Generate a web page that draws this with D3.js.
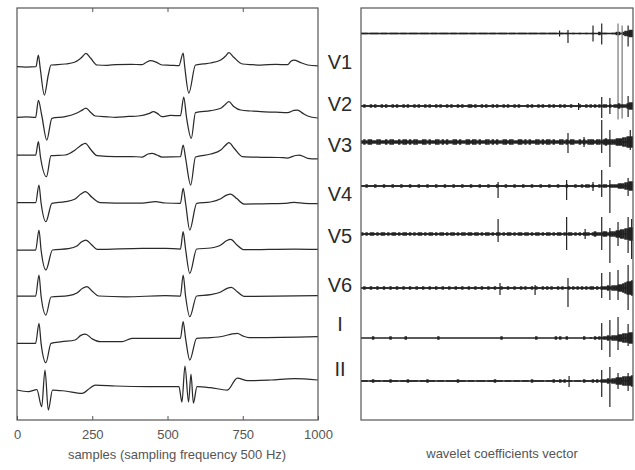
<!DOCTYPE html>
<html><head><meta charset="utf-8">
<script src="https://cdn.jsdelivr.net/npm/d3@7"></script>
<style>body{margin:0;background:#fff}text{font-family:"Liberation Sans",Arial,sans-serif}</style>
</head><body><svg id="c" width="635" height="470"></svg>
<script>
// ---------- data ----------
const leads = ["V1","V2","V3","V4","V5","V6","I","II"];
const xTicks = [0,250,500,750,1000];
const xTitle = "samples (sampling frequency 500 Hz)";
const rTitle = "wavelet coefficients vector";

// ECG traces: [sample, amplitude]
const ecgV1 = [[0,0.6],[30,0.2],[63,0.6],[71,12.3],[77,-0.7],[91,-27.7],[104,-7.7],[113,2.3],[135,2.6],[160,3.3],[193,5.3],[215,10],[229,14],[245,9],[266,2.3],[300,2.0],[327,2.6],[380,3.0],[416,2.6],[430,5],[443,6.6],[460,5.5],[482,2.3],[510,2.0],[538,1.6],[552,14.3],[557,1.3],[571,-25.7],[593,2.3],[620,3.5],[643,4.3],[677,7.3],[692,11],[704,14.6],[720,10],[749,3.3],[780,2.6],[810,2.3],[860,2.9],[899,2.6],[910,6],[921,7.3],[940,5],[966,2.3],[999,1.3]];
const ecgV2 = [[0,-3.9],[30,-3.4],[62,-3.9],[71,13],[82,-1.6],[99,-26.6],[116,-4.9],[160,-3.3],[199,0.4],[215,3],[229,5.4],[245,1],[260,-2.6],[300,-3.4],[327,-3.9],[370,-3.0],[403,-2.6],[440,0],[453,1.7],[466,0],[482,-3.3],[510,-2.0],[543,-2.3],[554,16.4],[563,-3.6],[579,-24.9],[593,0.7],[643,2.7],[677,5.1],[692,9],[704,11.7],[720,7],[743,3.4],[780,2.4],[810,1.7],[860,1.2],[899,0.7],[920,3],[932,3.4],[950,0],[966,-2.6],[999,-4.6]];
const ecgV3 = [[0,4.5],[62,4.5],[71,17.8],[78,2.5],[98,-17.2],[113,3.8],[160,4.5],[193,9.5],[212,14],[227,16.2],[245,10],[266,3.8],[327,2.8],[380,3.0],[416,2.5],[435,5.5],[449,6.2],[465,4.5],[482,2.5],[543,2.8],[552,14.5],[560,1.5],[577,-25.5],[593,2.5],[643,5.5],[677,9.5],[692,14],[704,16.8],[722,11],[749,2.8],[810,2.2],[870,2.0],[899,1.5],[925,4],[938,4.5],[952,3],[966,1.2],[999,0.5]];
const ecgV4 = [[0,2.9],[62,2.9],[73,20.6],[80,2.6],[96,-16.1],[116,2.3],[160,3.9],[193,6.6],[212,11.5],[227,13.9],[250,8],[277,2.9],[327,2.6],[416,2.6],[460,3.9],[493,2.6],[543,2.3],[552,17.3],[560,2.6],[574,-24.4],[597,2.3],[643,3.6],[677,6.9],[696,10.5],[710,11.6],[730,7],[754,1.6],[843,1.9],[900,2.5],[921,3.3],[954,2.3],[999,1.9]];
const ecgV5 = [[0,1.7],[62,1.7],[73,21.7],[80,1.7],[96,-18.3],[118,1.7],[171,3],[199,5.7],[215,10],[229,11.7],[248,7],[266,2.4],[416,3.4],[493,3.4],[543,2.7],[552,20],[560,2.7],[574,-21.6],[597,2.7],[643,3.7],[677,6.7],[696,11],[710,12.4],[730,7],[754,2],[921,2.7],[999,2.4]];
const ecgV6 = [[0,1.8],[62,1.8],[73,22.8],[80,1.8],[96,-17.2],[113,0.8],[171,2.1],[199,4.8],[218,9.5],[232,11.1],[252,6],[271,1.8],[360,1.0],[493,2.1],[543,1.8],[552,22.8],[560,1.8],[574,-18.9],[597,1.8],[643,3.1],[677,5.8],[698,9.5],[712,10.5],[732,6],[754,1.5],[999,2.1]];
const ecgI  = [[0,0.6],[62,0.6],[73,20.6],[80,0.6],[96,-18.8],[113,0.6],[149,2.2],[193,3.9],[212,8.5],[227,9.9],[250,5],[277,2.2],[349,2.2],[382,5.6],[493,5.6],[543,5.6],[552,22.2],[560,5.6],[574,-16.1],[597,5.6],[643,6.2],[688,7.9],[715,10],[732,10.6],[750,8],[771,6.2],[999,7.2]];
const ecgII = [[0,0],[38,-1.7],[66,0.3],[82,-16.7],[93,20],[104,-20],[118,0],[160,-1],[216,-3.3],[243,2],[260,5],[327,4],[438,3.3],[493,3.3],[538,3.3],[548,-12],[558,24],[570,-12],[578,16],[586,-13],[598,3.3],[643,2.3],[699,0],[732,12],[766,9.3],[843,10],[921,11.3],[999,10]];
const ecgTraces = [ecgV1,ecgV2,ecgV3,ecgV4,ecgV5,ecgV6,ecgI,ecgII];

// wavelet coefficient vectors: band half-amplitude per bin of 8 coefficients
const bandV1 = "1110111101110111101110111"+"1011110111011110111011110"+"1110111101110111101110111"+"1011110111011110110100100"+"1001001002011001122123344";
const bandV2 = "1211212112121121211212112"+"1211212112121121211212112"+"2121121211212112121121211"+"1212112121121211212112111"+"2112121212122121223222344";
const bandV3 = "2323322332232332232332323"+"3223323223323232233232233"+"2332322332323223323322332"+"3232233232332322332323322"+"3232333233234333344455666";
const bandV4 = "1121112111211121112111211"+"1211121112111211121112111"+"2111211121112111211121112"+"1112111211121112111211121"+"1212212112122122223334455";
const bandV5 = "2121221212212122121221212"+"1221212212122121221212212"+"2122121221212212122121221"+"2212122121221212212122121"+"2122212322233233344556677";
const bandV6 = "1211211211211211211211211"+"2112112112112112112112112"+"1121121121121121121121121"+"2112121121212112121121212"+"1212122121222323334456778";
const bandI  = "0000020000000200000020000"+"0000000000200000000000000"+"0000000000000020000000000"+"0000020000000020200200000"+"0020010212122323334455566";
const bandII = "1110121110111211101112111"+"1011121110111011111211101"+"1101111011121110111011101"+"1102111110111211212111011"+"1021112121222323344455556";
const coefBands = [bandV1,bandV2,bandV3,bandV4,bandV5,bandV6,bandI,bandII];

// large coefficients: [index, max, min]
const spikesV1 = [[730,3,-3],[761,3.5,-9.5],[853,8,-8],[885,10,-11],[945,10,-86],[960,8,-85],[982,8,-13]];
const spikesV2 = [[800,3,-4],[885,9,-12],[915,8,-8],[982,10,-11]];
const spikesV3 = [[761,9,-11],[820,5,-5],[885,22,-11],[915,12,-25],[990,12,-8]];
const spikesV4 = [[504,4,-12],[756,6,-14],[853,4,-5],[885,16,-11],[915,6,-27],[982,8,-10]];
const spikesV5 = [[504,15,-8],[756,17,-16],[824,5,-5],[885,17,-16],[915,6,-29],[945,12,-12],[982,17,-19],[995,15,-25]];
const spikesV6 = [[511,5,-7],[640,3,-7],[761,10,-19],[885,15,-10],[915,16,-12],[945,18,-12],[982,23,-22]];
const spikesI  = [[885,15,-12],[915,18,-19],[945,21,-12],[982,14,-8]];
const spikesII = [[765,5,-6],[885,11,-16],[915,14,-26],[945,8,-8],[982,8,-10]];
const coefSpikes = [spikesV1,spikesV2,spikesV3,spikesV4,spikesV5,spikesV6,spikesI,spikesII];
const coefOffsets = [386.5,314,278,234,186,132,82,39];

// ---------- drawing ----------
const svg = d3.select("#c");
const L = {x0:17,x1:318,y0:8,y1:420}, R = {x0:361,x1:633,y0:8,y1:420};
const ink = "#222", frame = "#555";

const xL = d3.scaleLinear().domain([0,1000]).range([L.x0,L.x1]);
const yL = d3.scaleLinear().domain([-30,382]).range([L.y1,L.y0]);
const step = 46.1;

svg.append("rect").attr("x",L.x0).attr("y",L.y0).attr("width",L.x1-L.x0).attr("height",L.y1-L.y0)
  .attr("fill","none").attr("stroke",frame).attr("stroke-width",1.2);

const topAx = svg.append("g").attr("transform",`translate(0,${L.y0})`)
  .call(d3.axisTop(xL).tickValues(xTicks.slice(1,-1)).tickSize(-4).tickFormat(""));
topAx.select(".domain").remove();
topAx.selectAll("line").attr("stroke",frame);
const botAx = svg.append("g").attr("transform",`translate(0,${L.y1})`)
  .call(d3.axisBottom(xL).tickValues(xTicks).tickSize(-4).tickPadding(10).tickFormat(d3.format("d")));
botAx.select(".domain").remove();
botAx.selectAll("line").attr("stroke",frame);
botAx.selectAll("text").attr("font-size",13).attr("fill","#555")
  .attr("font-family","'Liberation Sans',Arial,sans-serif");

svg.append("text").attr("x",177).attr("y",459).attr("text-anchor","middle")
  .attr("font-size",13).attr("fill","#555").text(xTitle);

const line = d3.line().x(d=>xL(d[0])).y(d=>yL(d[1])).curve(d3.curveMonotoneX);
ecgTraces.forEach((tr,k)=>{
  const off = (7-k)*step;
  svg.append("path").datum(tr.map(d=>[d[0],d[1]+off]))
    .attr("d",line).attr("fill","none").attr("stroke","#2a2a2a")
    .attr("stroke-width",1.25).attr("stroke-linejoin","round");
});

// labels
const labelY = [68.5,111,152,201,243,292,331,376];
leads.forEach((t,k)=>{
  svg.append("text").attr("x",340).attr("y",labelY[k]).attr("text-anchor","middle")
    .attr("font-size",20).attr("fill","#2a2a2a").text(t);
});

// right panel
const xR = d3.scaleLinear().domain([0,1000]).range([R.x0,R.x1]);
const yR = d3.scaleLinear().domain([0,412]).range([R.y1,R.y0]);
svg.append("clipPath").attr("id","rc").append("rect")
  .attr("x",R.x0).attr("y",R.y0).attr("width",R.x1-R.x0).attr("height",R.y1-R.y0);
const rg = svg.append("g").attr("clip-path","url(#rc)");
const binW = xR(8)-xR(0);
coefBands.forEach((band,k)=>{
  const off = coefOffsets[k];
  rg.append("line").attr("x1",xR(0)).attr("x2",xR(1000)).attr("y1",yR(off)).attr("y2",yR(off))
    .attr("stroke",ink).attr("stroke-width",1.3);
  const bins = band.split("").map((c,b)=>[b*8,+c]).filter(d=>d[1]>0);
  rg.selectAll(null).data(bins).enter().append("rect")
    .attr("x",d=>xR(d[0])).attr("width",binW+0.3)
    .attr("y",d=>yR(off+d[1])+0.3).attr("height",d=>yR(off-d[1])-yR(off+d[1])-0.6)
    .attr("fill",ink);
  rg.selectAll(null).data(coefSpikes[k]).enter().append("line")
    .attr("x1",d=>xR(d[0])).attr("x2",d=>xR(d[0]))
    .attr("y1",d=>yR(off+d[1])).attr("y2",d=>yR(off+d[2]))
    .attr("stroke",d=>(d[1]-d[2])>50?"#777":ink).attr("stroke-width",1.2);
});
svg.append("rect").attr("x",R.x0).attr("y",R.y0).attr("width",R.x1-R.x0).attr("height",R.y1-R.y0)
  .attr("fill","none").attr("stroke",frame).attr("stroke-width",1.2);
svg.append("text").attr("x",502).attr("y",458).attr("text-anchor","middle")
  .attr("font-size",13).attr("fill","#555").text(rTitle);
</script></body></html>
